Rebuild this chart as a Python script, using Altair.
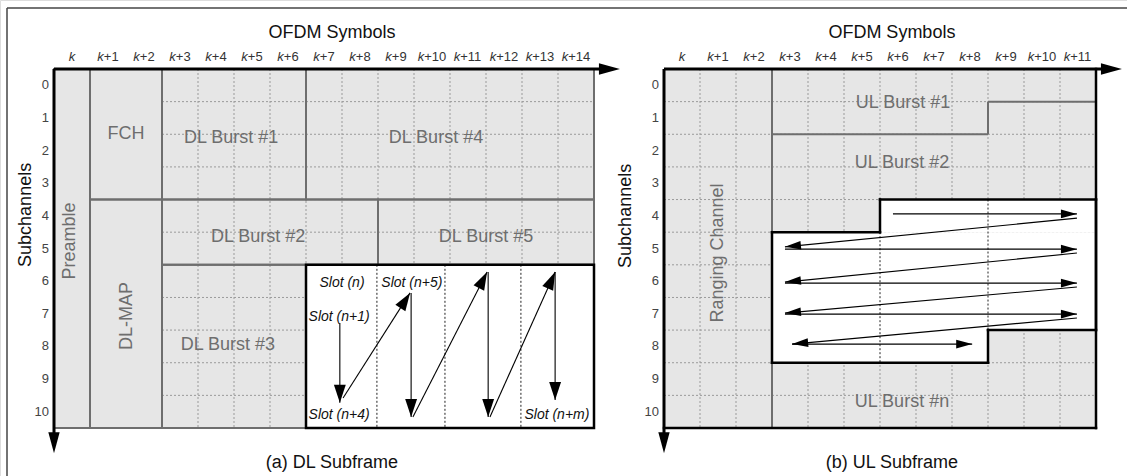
import math
import altair as alt
import pandas as pd

# ---------------- data ----------------
subchannels = list(range(11))
dl_symbol_offsets = list(range(15))
ul_symbol_offsets = list(range(12))

# DL subframe regions: symbols [start, end) x subchannels [start, end)
dl_region_names = ["Preamble", "FCH", "DL-MAP", "DL Burst #1", "DL Burst #4",
                   "DL Burst #2", "DL Burst #5", "DL Burst #3"]
dl_sym_start = [0, 1, 1, 3, 7, 3, 9, 3]
dl_sym_end = [1, 3, 3, 7, 15, 9, 15, 7]
dl_sub_start = [0, 0, 4, 0, 0, 4, 4, 6]
dl_sub_end = [11, 4, 11, 4, 4, 6, 6, 11]
dl_label_sym = [0.44, 2.0, 2.03, 4.92, 10.61, 5.67, 12.0, 4.83]
dl_label_sub = [5.27, 1.99, 7.57, 2.11, 2.11, 5.15, 5.15, 8.46]
dl_label_angle = [270, 0, 270, 0, 0, 0, 0, 0]

# burst mapped slot by slot
slot_zone = [7, 15, 6, 11]            # sym start, sym end, sub start, sub end
slot_dividers = [8.97, 10.86, 12.97]
slot_names = ["Slot (n)", "Slot (n+5)", "Slot (n+1)", "Slot (n+4)", "Slot (n+m)"]
slot_sym = [8.0, 9.94, 7.92, 7.92, 13.97]
slot_sub = [6.56, 6.56, 7.6, 10.6, 10.6]
dl_arrow_x1 = [7.94, 8.03, 9.92, 9.97, 12.06, 12.11, 13.92]
dl_arrow_y1 = [7.78, 10.08, 6.86, 10.66, 6.22, 10.66, 6.22]
dl_arrow_x2 = [7.94, 9.89, 9.92, 12.03, 12.06, 13.92, 13.92]
dl_arrow_y2 = [10.23, 6.86, 10.66, 6.22, 10.66, 6.22, 10.14]

# UL subframe
ul_label_names = ["Ranging Channel", "UL Burst #1", "UL Burst #2", "UL Burst #n"]
ul_label_sym = [1.5, 6.64, 6.61, 6.61]
ul_label_sub = [5.64, 1.04, 2.88, 10.2]
ul_label_angle = [270, 0, 0, 0]
ranging_end = 3
ul_zone_sym = [3, 6, 6, 12, 12, 9, 9, 3, 3]
ul_zone_sub = [5, 5, 4, 4, 8, 8, 9, 9, 5]
ul_zone_rects = [(3, 12, 5, 8), (6, 12, 4, 5), (3, 9, 8, 9)]
ul_split_sym = [3, 9, 9, 12]
ul_split_sub = [2, 2, 1, 1]
ul_div_sym = [6, 9]
ul_div_from = [5, 4]
ul_div_to = [9, 8]
ul_arrow_x1 = [6.36, 11.47, 3.36, 11.47, 3.36, 11.47, 3.36, 11.47, 3.56]
ul_arrow_y1 = [4.44, 4.57, 5.52, 5.64, 6.56, 6.68, 7.51, 7.63, 8.43]
ul_arrow_x2 = [11.47, 3.36, 11.47, 3.36, 11.47, 3.36, 11.47, 3.56, 8.56]
ul_arrow_y2 = [4.44, 5.45, 5.52, 6.53, 6.56, 7.48, 7.51, 8.43, 8.43]

# ---------------- layout ----------------
W, H = 1127, 476
COL_PX = 36.0
ROW_PX = 359 / 11
A_LEFT, B_LEFT, TOP = 54, 664, 69
B_OFF = (B_LEFT - A_LEFT) / COL_PX
X_DOMAIN = [-A_LEFT / COL_PX, (W - A_LEFT) / COL_PX]
Y_DOMAIN = [-TOP / ROW_PX, (H - TOP) / ROW_PX]
N_SUB = len(subchannels)
A_SYMS = len(dl_symbol_offsets)
B_SYMS = len(ul_symbol_offsets)

FONT = "Liberation Sans"
GREY_FILL = "#e6e6e6"
BORDER = "#6e6e6e"
GRID = "#9a9a9a"
LABEL = "#6e6e6e"

XS = alt.Scale(domain=X_DOMAIN, nice=False, zero=False)
YS = alt.Scale(domain=Y_DOMAIN, nice=False, zero=False, reverse=True)


def X(f):
    return alt.X(f, type="quantitative", scale=XS, axis=None)


def Y(f):
    return alt.Y(f, type="quantitative", scale=YS, axis=None)


def rules(rows, **kw):
    df = pd.DataFrame(rows, columns=["x", "y", "x2", "y2"])
    return alt.Chart(df).mark_rule(**kw).encode(x=X("x"), y=Y("y"), x2="x2", y2="y2")


def rects(rows, **kw):
    df = pd.DataFrame(rows, columns=["x", "x2", "y", "y2"])
    return alt.Chart(df).mark_rect(**kw).encode(x=X("x"), x2="x2", y=Y("y"), y2="y2")


def texts(rows, **kw):
    df = pd.DataFrame(rows, columns=["x", "y", "t", "angle"])
    base = dict(font=FONT, baseline="middle", align="center")
    base.update(kw)
    return alt.Chart(df).mark_text(**base).encode(
        x=X("x"), y=Y("y"), text="t:N", angle=alt.Angle("angle:Q", scale=None))


def heading(dx, dy):
    # screen-space direction of an arrow, clockwise from "up"
    return math.degrees(math.atan2(dx * COL_PX, -dy * ROW_PX)) % 360


def heads(rows, path, length):
    df = pd.DataFrame(rows, columns=["x", "y", "a"])
    df["s"] = 4 * length ** 2
    return alt.Chart(df).mark_point(shape=path, filled=True, fill="black",
                                    strokeWidth=0, opacity=1).encode(
        x=X("x"), y=Y("y"), angle=alt.Angle("a:Q", scale=None),
        size=alt.Size("s:Q", scale=None))


HEAD = "M0,0L-0.33,1L0.33,1Z"
HEAD_SLIM = "M0,0L-0.27,1L0.27,1Z"

layers = []

# ---- backgrounds ----
dl_rect_rows = [(s0, s1, r0, r1) for s0, s1, r0, r1 in
                zip(dl_sym_start, dl_sym_end, dl_sub_start, dl_sub_end)]
layers.append(rects(dl_rect_rows, fill=GREY_FILL, strokeWidth=0))
layers.append(rects([(B_OFF, B_OFF + B_SYMS, 0, N_SUB)], fill=GREY_FILL, strokeWidth=0))

# ---- dotted grids ----
grid_rows = []
for c in range(4, A_SYMS):
    grid_rows.append((c, 0, c, N_SUB))
for r in range(1, N_SUB):
    grid_rows.append((3, r, A_SYMS, r))
for c in range(1, B_SYMS):
    grid_rows.append((B_OFF + c, 0, B_OFF + c, N_SUB))
for r in range(1, N_SUB):
    grid_rows.append((B_OFF, r, B_OFF + B_SYMS, r))
layers.append(rules(grid_rows, stroke=GRID, strokeWidth=1, strokeDash=[2, 2]))

# ---- white zones ----
white_rows = [(slot_zone[0], slot_zone[1], slot_zone[2], slot_zone[3])]
white_rows += [(B_OFF + a, B_OFF + b, c, d) for a, b, c, d in ul_zone_rects]
layers.append(rects(white_rows, fill="white", strokeWidth=0))

# dotted dividers inside the white zones
div_rows = [(d, slot_zone[2], d, slot_zone[3]) for d in slot_dividers]
div_rows += [(B_OFF + s, f, B_OFF + s, t) for s, f, t in zip(ul_div_sym, ul_div_from, ul_div_to)]
layers.append(rules(div_rows, stroke="#222222", strokeWidth=1, strokeDash=[2, 2]))

# ---- region borders ----
layers.append(rects(dl_rect_rows, fillOpacity=0, stroke=BORDER, strokeWidth=2))
ul_border_rows = [(B_OFF + ranging_end, 0, B_OFF + ranging_end, 5),
                  (B_OFF + ranging_end, 9, B_OFF + ranging_end, N_SUB)]
for i in range(len(ul_split_sym) - 1):
    ul_border_rows.append((B_OFF + ul_split_sym[i], ul_split_sub[i],
                           B_OFF + ul_split_sym[i + 1], ul_split_sub[i + 1]))
layers.append(rules(ul_border_rows, stroke=BORDER, strokeWidth=2))

# ---- black outlines ----
layers.append(rects([(slot_zone[0], slot_zone[1], slot_zone[2], slot_zone[3])],
                    fillOpacity=0, stroke="black", strokeWidth=2.5))
zone_rows = [(B_OFF + ul_zone_sym[i], ul_zone_sub[i], B_OFF + ul_zone_sym[i + 1], ul_zone_sub[i + 1])
             for i in range(len(ul_zone_sym) - 1)]
zone_rows += [(B_OFF + B_SYMS, 0, B_OFF + B_SYMS, N_SUB), (B_OFF, N_SUB, B_OFF + B_SYMS, N_SUB)]
layers.append(rules(zone_rows, stroke="black", strokeWidth=2.5, strokeCap="square"))

# ---- axes with arrows ----
AX_X_TIP = 0.72     # symbols past the last column
AX_Y_TIP = 0.77     # subchannels past the last row
axis_rows = [(0, 0, A_SYMS + AX_X_TIP - 0.5, 0), (0, 0, 0, N_SUB + AX_Y_TIP - 0.5),
             (B_OFF, 0, B_OFF + B_SYMS + AX_X_TIP - 0.5, 0), (B_OFF, 0, B_OFF, N_SUB + AX_Y_TIP - 0.5)]
layers.append(rules(axis_rows, stroke="black", strokeWidth=3))
layers.append(heads([(A_SYMS + AX_X_TIP, 0, 90), (0, N_SUB + AX_Y_TIP, 180),
                     (B_OFF + B_SYMS + AX_X_TIP, 0, 90), (B_OFF, N_SUB + AX_Y_TIP, 180)],
                    HEAD_SLIM, 21))

# ---- texts ----
TICK_ROW = -0.37
W_K = 6.5
W_PLUS = 7.59
W_DIGIT = 7.23


def symbol_labels(offsets, x0):
    k_rows, n_rows = [], []
    for n in offsets:
        cx = x0 + n + 0.5
        if n == 0:
            k_rows.append((cx, TICK_ROW, "k", 0))
            continue
        w_n = W_PLUS + W_DIGIT * len(str(n))
        left = cx * COL_PX - (W_K + w_n) / 2
        k_rows.append(((left + W_K / 2) / COL_PX, TICK_ROW, "k", 0))
        n_rows.append(((left + W_K) / COL_PX, TICK_ROW, f"+{n}", 0))
    return k_rows, n_rows


ka, na = symbol_labels(dl_symbol_offsets, 0)
kb, nb = symbol_labels(ul_symbol_offsets, B_OFF)
layers.append(texts(ka + kb, fontSize=13, fontStyle="italic", color="#333333"))
layers.append(texts(na + nb, fontSize=13, color="#333333", align="left"))

sub_rows = [(-0.14, s + 0.5, str(s), 0) for s in subchannels]
sub_rows += [(B_OFF - 0.14, s + 0.5, str(s), 0) for s in subchannels]
layers.append(texts(sub_rows, fontSize=13, color="#444444", align="right"))

title_rows = [(7.72, -1.10, "OFDM Symbols", 0), (B_OFF + 6.33, -1.10, "OFDM Symbols", 0),
              (-0.78, 4.47, "Subchannels", 270), (B_OFF - 1.06, 4.5, "Subchannels", 270),
              (7.72, 12.07, "(a) DL Subframe", 0), (B_OFF + 6.33, 12.07, "(b) UL Subframe", 0)]
layers.append(texts(title_rows, fontSize=18, color="#111111"))

region_rows = list(zip(dl_label_sym, dl_label_sub, dl_region_names, dl_label_angle))
region_rows += [(B_OFF + s, r, t, a) for s, r, t, a in
                zip(ul_label_sym, ul_label_sub, ul_label_names, ul_label_angle)]
layers.append(texts(region_rows, fontSize=18, color=LABEL))

layers.append(texts(list(zip(slot_sym, slot_sub, slot_names, [0] * len(slot_names))),
                    fontSize=14, fontStyle="italic", color="#111111"))

# ---- mapping arrows ----
dl_lines = list(zip(dl_arrow_x1, dl_arrow_y1, dl_arrow_x2, dl_arrow_y2))
ul_lines = [(B_OFF + a, b, B_OFF + c, d) for a, b, c, d in
            zip(ul_arrow_x1, ul_arrow_y1, ul_arrow_x2, ul_arrow_y2)]
layers.append(rules(dl_lines + ul_lines, stroke="black", strokeWidth=1.1))
layers.append(heads([(x2, y2, heading(x2 - x1, y2 - y1)) for x1, y1, x2, y2 in dl_lines], HEAD, 18))
layers.append(heads([(x2, y2, heading(x2 - x1, y2 - y1)) for x1, y1, x2, y2 in ul_lines], HEAD_SLIM, 16))

# ---- outer frame (top and left edges) ----
FRAME_X = (7 - A_LEFT) / COL_PX
FRAME_Y = (8 - TOP) / ROW_PX
layers.append(rules([(FRAME_X, FRAME_Y, X_DOMAIN[1], FRAME_Y),
                     (FRAME_X, FRAME_Y, FRAME_X, Y_DOMAIN[1])],
                    stroke="#444444", strokeWidth=1.5))

chart = alt.layer(*layers).properties(
    width=W, height=H,
    autosize=alt.AutoSizeParams(type="none"),
    padding=0,
).configure_view(stroke=None).configure(background="white")

chart.save("out.html", embed_options={"renderer": "svg", "actions": False})
